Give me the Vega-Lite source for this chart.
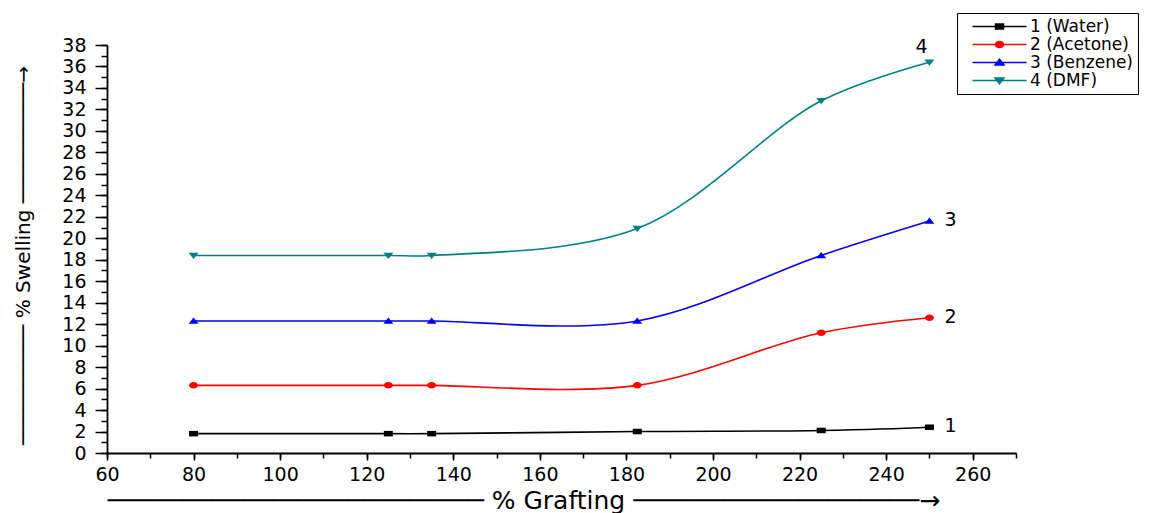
{
  "$schema": "https://vega.github.io/schema/vega-lite/v6.json",
  "width": 909,
  "height": 408,
  "autosize": {"type": "none"},
  "padding": {"left": 107, "top": 45, "right": 143, "bottom": 60},
  "background": "white",
  "config": {
    "view": {"stroke": null},
    "axis": {
      "grid": false,
      "domainColor": "black",
      "tickColor": "black",
      "labelColor": "black",
      "titleColor": "black",
      "labelFont": "DejaVu Sans",
      "titleFont": "DejaVu Sans",
      "domainWidth": 1.8,
      "tickWidth": 1.5,
      "labelFlush": false
    }
  },
  "data": {
    "values": [
      {"g": 80, "s": 1.8, "solvent": "1 (Water)", "label": ""},
      {"g": 125, "s": 1.8, "solvent": "1 (Water)", "label": ""},
      {"g": 135, "s": 1.8, "solvent": "1 (Water)", "label": ""},
      {"g": 182.5, "s": 2.0, "solvent": "1 (Water)", "label": ""},
      {"g": 225, "s": 2.1, "solvent": "1 (Water)", "label": ""},
      {"g": 250, "s": 2.4, "solvent": "1 (Water)", "label": "1"},
      {"g": 80, "s": 6.3, "solvent": "2 (Acetone)", "label": ""},
      {"g": 125, "s": 6.3, "solvent": "2 (Acetone)", "label": ""},
      {"g": 135, "s": 6.3, "solvent": "2 (Acetone)", "label": ""},
      {"g": 182.5, "s": 6.3, "solvent": "2 (Acetone)", "label": ""},
      {"g": 225, "s": 11.2, "solvent": "2 (Acetone)", "label": ""},
      {"g": 250, "s": 12.6, "solvent": "2 (Acetone)", "label": "2"},
      {"g": 80, "s": 12.3, "solvent": "3 (Benzene)", "label": ""},
      {"g": 125, "s": 12.3, "solvent": "3 (Benzene)", "label": ""},
      {"g": 135, "s": 12.3, "solvent": "3 (Benzene)", "label": ""},
      {"g": 182.5, "s": 12.3, "solvent": "3 (Benzene)", "label": ""},
      {"g": 225, "s": 18.4, "solvent": "3 (Benzene)", "label": ""},
      {"g": 250, "s": 21.6, "solvent": "3 (Benzene)", "label": "3"},
      {"g": 80, "s": 18.4, "solvent": "4 (DMF)", "label": ""},
      {"g": 125, "s": 18.4, "solvent": "4 (DMF)", "label": ""},
      {"g": 135, "s": 18.4, "solvent": "4 (DMF)", "label": ""},
      {"g": 182.5, "s": 20.9, "solvent": "4 (DMF)", "label": ""},
      {"g": 225, "s": 32.8, "solvent": "4 (DMF)", "label": ""},
      {"g": 250, "s": 36.4, "solvent": "4 (DMF)", "label": "4"}
    ]
  },
  "layer": [
    {
      "mark": {"type": "line", "interpolate": "catmull-rom", "strokeWidth": 1.6},
      "encoding": {
        "x": {
          "field": "g", "type": "quantitative",
          "scale": {"domain": [60, 270], "nice": false, "zero": false},
          "axis": {
            "orient": "bottom",
            "values": [60, 80, 100, 120, 140, 160, 180, 200, 220, 240, 260],
            "tickSize": 7, "labelFontSize": 19, "labelPadding": 5,
            "title": "───────────────────────── % Grafting ───────────────────→",
            "titleFont": "DejaVu Sans", "titleFontSize": 25, "titleFontWeight": "normal",
            "titleX": 0, "titleAlign": "left", "titleAnchor": "start",
            "titleY": 55, "titleBaseline": "alphabetic"
          }
        },
        "y": {
          "field": "s", "type": "quantitative",
          "scale": {"domain": [0, 38], "nice": false},
          "axis": {
            "orient": "left",
            "values": [0, 2, 4, 6, 8, 10, 12, 14, 16, 18, 20, 22, 24, 26, 28, 30, 32, 34, 36, 38],
            "tickSize": 12, "labelFontSize": 19, "labelPadding": 9,
            "title": "────────── % Swelling ──────────→",
            "titleFont": "DejaVu Sans", "titleFontSize": 20, "titleFontWeight": "normal",
            "titleAngle": -90, "titleX": -78, "titleY": 210,
            "titleAlign": "center", "titleBaseline": "alphabetic"
          }
        },
        "color": {
          "field": "solvent", "type": "nominal",
          "scale": {
            "domain": ["1 (Water)", "2 (Acetone)", "3 (Benzene)", "4 (DMF)"],
            "range": ["#000000", "#ff0000", "#0000ff", "#008080"]
          },
          "legend": {
            "orient": "none", "legendX": 850, "legendY": -32,
            "title": null,
            "strokeColor": "black", "padding": 5, "fillColor": "white",
            "labelFont": "DejaVu Sans", "labelFontSize": 17, "labelColor": "black",
            "rowPadding": 0, "symbolSize": 100, "symbolOffset": 29, "labelOffset": 22,
            "symbolStrokeWidth": 1.5, "symbolOpacity": 1
          }
        }
      }
    },
    {
      "mark": {
        "type": "point", "filled": true, "opacity": 1, "size": 100,
        "shape": {"expr": "datum.solvent === '1 (Water)' ? 'M-0.9,-0.55H0.9V0.55H-0.9Z' : datum.solvent === '2 (Acetone)' ? 'M-0.9,0A0.9,0.65 0 1,0 0.9,0A0.9,0.65 0 1,0 -0.9,0Z' : datum.solvent === '3 (Benzene)' ? 'M0,-0.7L1,0.55H-1Z' : 'M0,0.7L1,-0.55H-1Z'"}
      },
      "encoding": {
        "x": {
          "field": "g", "type": "quantitative",
          "scale": {"domain": [60, 270], "nice": false, "zero": false},
          "axis": {
            "orient": "bottom",
            "values": [60, 70, 80, 90, 100, 110, 120, 130, 140, 150, 160, 170, 180, 190, 200, 210, 220, 230, 240, 250, 260, 270],
            "tickSize": 5, "labels": false, "domain": false, "title": null
          }
        },
        "y": {
          "field": "s", "type": "quantitative",
          "scale": {"domain": [0, 38], "nice": false},
          "axis": {
            "orient": "left",
            "values": [0, 1, 2, 3, 4, 5, 6, 7, 8, 9, 10, 11, 12, 13, 14, 15, 16, 17, 18, 19, 20, 21, 22, 23, 24, 25, 26, 27, 28, 29, 30, 31, 32, 33, 34, 35, 36, 37, 38],
            "tickSize": 6, "labels": false, "domain": false, "title": null
          }
        },
        "color": {"field": "solvent", "type": "nominal", "legend": null}
      }
    },
    {
      "mark": {"type": "point", "filled": true, "size": 0, "opacity": 1},
      "encoding": {
        "x": {"field": "g", "type": "quantitative", "axis": null},
        "y": {"field": "s", "type": "quantitative", "axis": null},
        "color": {"field": "solvent", "type": "nominal"},
        "shape": {
          "field": "solvent", "type": "nominal",
          "scale": {
            "domain": ["1 (Water)", "2 (Acetone)", "3 (Benzene)", "4 (DMF)"],
            "range": [
              "M-5.4,0H5.4M-0.8,-0.5H0.8V0.5H-0.8Z",
              "M-5.4,0H5.4M-0.8,0A0.8,0.6 0 1,0 0.8,0A0.8,0.6 0 1,0 -0.8,0Z",
              "M-5.4,0H5.4M0,-0.65L0.9,0.5H-0.9Z",
              "M-5.4,0H5.4M0,0.65L0.9,-0.5H-0.9Z"
            ]
          }
        }
      }
    },
    {
      "transform": [{"filter": "datum.label != '' && datum.label != '4'"}],
      "mark": {"type": "text", "align": "left", "baseline": "middle", "dx": 15, "dy": -1, "font": "DejaVu Sans", "fontSize": 19, "color": "black"},
      "encoding": {
        "x": {"field": "g", "type": "quantitative", "axis": null},
        "y": {"field": "s", "type": "quantitative", "axis": null},
        "text": {"field": "label"}
      }
    },
    {
      "transform": [{"filter": "datum.label == '4'"}],
      "mark": {"type": "text", "align": "center", "baseline": "middle", "dx": -8, "dy": -15, "font": "DejaVu Sans", "fontSize": 19, "color": "black"},
      "encoding": {
        "x": {"field": "g", "type": "quantitative", "axis": null},
        "y": {"field": "s", "type": "quantitative", "axis": null},
        "text": {"field": "label"}
      }
    }
  ],
  "resolve": {"axis": {"x": "independent", "y": "independent"}}
}
